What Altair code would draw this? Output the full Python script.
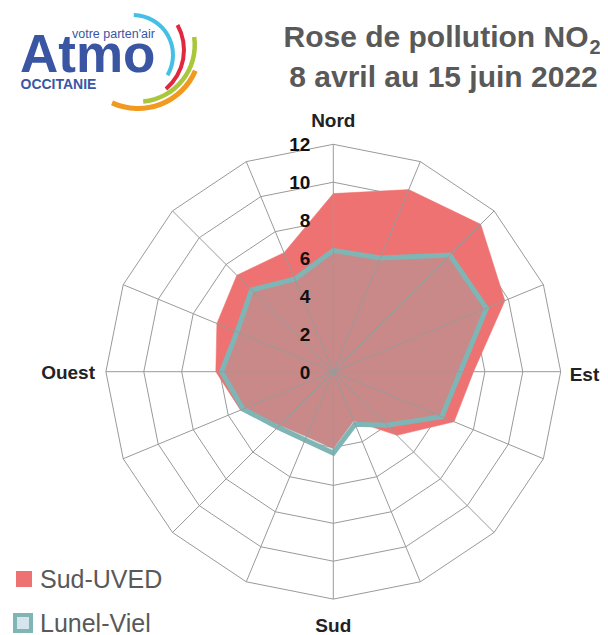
import altair as alt
import pandas as pd

# ---------------- data ----------------
directions = ["N", "NNE", "NE", "ENE", "E", "ESE", "SE", "SSE",
              "S", "SSW", "SW", "WSW", "W", "WNW", "NW", "NNW"]
sud_uved = [9.4, 10.4, 11.0, 9.8, 7.4, 6.9, 4.75, 2.8,
            4.05, 3.7, 4.0, 5.3, 6.2, 6.65, 7.2, 6.8]
lunel_viel = [6.4, 6.5, 8.7, 8.75, 6.7, 6.2, 4.0, 3.0,
              4.3, 3.9, 4.15, 5.15, 5.9, 5.5, 6.1, 5.3]
series_names = ["Sud-UVED", "Lunel-Viel"]
ring_values = [2, 4, 6, 8, 10, 12]
tick_labels = [0, 2, 4, 6, 8, 10, 12]
cardinal_labels = ["Nord", "Est", "Sud", "Ouest"]
cardinal_dirs = ["N", "E", "S", "W"]
title_line1 = "Rose de pollution NO"
title_sub = "2"
title_line2 = "8 avril au 15 juin 2022"
logo_main = "Atmo"
logo_tag = "votre parten'air"
logo_region = "OCCITANIE"

# ---------------- layout ----------------
W, H = 592, 627
CX, CY = 325.3, 363.7
UNIT = 18.95
N = len(directions)
RMAX = max(ring_values)

xs = alt.Scale(domain=[-CX / UNIT, (W - CX) / UNIT], nice=False, zero=False)
ys = alt.Scale(domain=[-(H - CY) / UNIT, CY / UNIT], nice=False, zero=False)

RED = "#EE7271"
TEAL = "#7FB5B5"
LIGHT = "#D6E4EC"
GRID = "#9A9A9A"
GREY_TXT = "#595959"
BLUE = "#3A56A3"
FONT = "Liberation Sans"

idx = list(range(N))
series_df = pd.DataFrame({
    "dir": directions * 2,
    "idx": idx * 2,
    "value": sud_uved + lunel_viel,
    "series": [series_names[0]] * N + [series_names[1]] * N,
})
ring_df = pd.DataFrame([{"ring": r, "idx": i, "value": r} for r in ring_values for i in idx])
spoke_df = pd.DataFrame({"idx": idx, "value": [RMAX] * N})
tick_df = pd.DataFrame({"tick": tick_labels})
card_df = pd.DataFrame({"label": cardinal_labels,
                        "idx": [directions.index(d) for d in cardinal_dirs],
                        "value": [RMAX] * 4})


def polar(ch):
    return ch.transform_calculate(
        ang=f"datum.idx * 2 * PI / {N}"
    ).transform_calculate(
        px="datum.value * sin(datum.ang)",
        py="datum.value * cos(datum.ang)",
    )


X = alt.X("px:Q", scale=xs, axis=None)
Y = alt.Y("py:Q", scale=ys, axis=None)

rings = polar(alt.Chart(ring_df).mark_line(
    interpolate="linear-closed", color=GRID, strokeWidth=1
)).encode(x=X, y=Y, detail="ring:N", order="idx:Q")

red_poly = polar(alt.Chart(series_df).transform_filter(
    alt.datum.series == series_names[0]
).mark_line(
    interpolate="linear-closed", fill=RED, stroke=RED, strokeWidth=0.5
)).encode(x=X, y=Y, order="idx:Q")

teal_poly = polar(alt.Chart(series_df).transform_filter(
    alt.datum.series == series_names[1]
).mark_line(
    interpolate="linear-closed", fill=TEAL, fillOpacity=0.34,
    stroke=TEAL, strokeWidth=5
)).encode(x=X, y=Y, order="idx:Q")

spokes = polar(alt.Chart(spoke_df)).transform_calculate(
    zx="0", zy="0"
).mark_rule(color=GRID, strokeWidth=1).encode(
    x=alt.X("zx:Q", scale=xs, axis=None),
    y=alt.Y("zy:Q", scale=ys, axis=None),
    x2="px:Q", y2="py:Q",
)

ticks = alt.Chart(tick_df).transform_calculate(zx="0").mark_text(
    align="right", baseline="middle", dx=-23, dy=1,
    font=FONT, fontSize=19, fontWeight="bold", color="#111111"
).encode(
    x=alt.X("zx:Q", scale=xs, axis=None),
    y=alt.Y("tick:Q", scale=ys, axis=None),
    text="tick:Q",
)

card_style = dict(font=FONT, fontSize=19, fontWeight="bold", color="#222222",
                  baseline="alphabetic")
card_offsets = {
    "Nord": dict(align="center", dx=0, dy=-17.3),
    "Est": dict(align="left", dx=9, dy=9.3),
    "Sud": dict(align="center", dx=0, dy=32.9),
    "Ouest": dict(align="right", dx=-10.9, dy=7.3),
}
card_layers = []
for lab in cardinal_labels:
    card_layers.append(
        polar(alt.Chart(card_df).transform_filter(alt.datum.label == lab))
        .mark_text(**card_style, **card_offsets[lab])
        .encode(x=X, y=Y, text="label:N")
    )

# ---------------- title ----------------
def txt(s, x, y, **kw):
    return alt.Chart(pd.DataFrame({"t": [s]})).mark_text(**kw).encode(
        x=alt.value(x), y=alt.value(y), text="t:N")

title1 = txt(title_line1, 580.5, 39, align="right", baseline="alphabetic",
             font=FONT, fontSize=30, fontWeight="bold", color=GREY_TXT)
title2 = txt(title_sub, 581.5, 46, align="left", baseline="alphabetic",
             font=FONT, fontSize=20, fontWeight="bold", color=GREY_TXT)
title3 = txt(title_line2, 435.5, 79, align="center", baseline="alphabetic",
             font=FONT, fontSize=30, fontWeight="bold", color=GREY_TXT)

# ---------------- legend ----------------
def square(x, y, fill, stroke, sw):
    return alt.Chart(pd.DataFrame({"a": [0]})).mark_square(
        size=256, fill=fill, stroke=stroke, strokeWidth=sw, opacity=1, filled=True
    ).encode(x=alt.value(x), y=alt.value(y))

leg1 = square(16, 571, RED, RED, 0)
leg1t = txt(series_names[0], 32, 580, align="left", baseline="alphabetic",
            font=FONT, fontSize=25, color=GREY_TXT)
leg2 = square(15, 615, LIGHT, TEAL, 4)
leg2t = txt(series_names[1], 32, 623.5, align="left", baseline="alphabetic",
            font=FONT, fontSize=25, color=GREY_TXT)

# ---------------- logo ----------------
def arc(cx, cy, r, t1, t2, color, w):
    return alt.Chart(pd.DataFrame({"a": [0]})).mark_arc(
        radius=r, radius2=r - w, theta=t1, theta2=t2, color=color
    ).encode(x=alt.value(cx - 8), y=alt.value(cy - 8))

logo = [
    arc(133, 55, 42, 0.02, 2.1, "#45BFE6", 4),
    arc(133, 50, 53, 1.06, 2.44, "#E2283E", 4),
    arc(138, 45, 59, 1.43, 3.05, "#A9C73A", 4.5),
    arc(138, 46, 65, 1.98, 3.57, "#F29A1F", 5),
    txt(logo_main, 12, 64, align="left", baseline="alphabetic",
        font=FONT, fontSize=53, fontWeight="bold", color=BLUE),
    txt(logo_tag, 64, 29.5, align="left", baseline="alphabetic",
        font=FONT, fontSize=12.5, color=BLUE),
    txt(logo_region, 12.5, 80.5, align="left", baseline="alphabetic",
        font=FONT, fontSize=14, fontWeight="bold", color=BLUE),
]

chart = alt.layer(
    rings, red_poly, teal_poly, spokes, ticks, *card_layers,
    title1, title2, title3, leg1, leg1t, leg2, leg2t, *logo
).properties(
    width=W, height=H, padding=0,
    autosize=alt.AutoSizeParams(type="none"),
).configure_view(stroke="transparent")

chart.save("out.html", embed_options={"renderer": "svg", "actions": False})
